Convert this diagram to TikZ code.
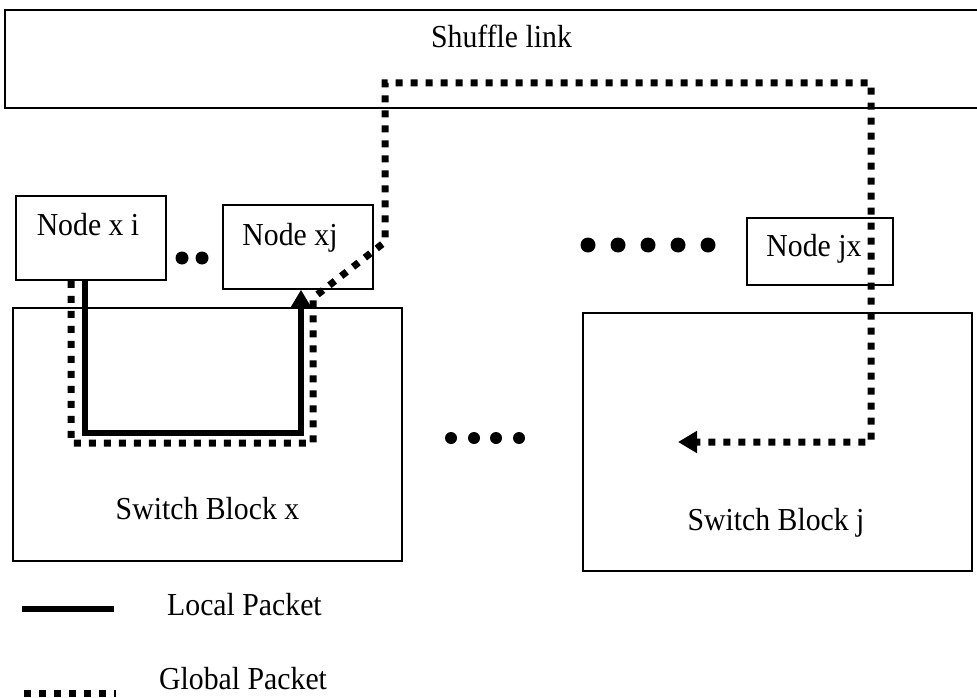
\documentclass[tikz,border=0pt]{standalone}
\usepackage{fontspec}
\setmainfont{Liberation Serif}[FakeStretch=0.93]
\usetikzlibrary{arrows.meta}
\begin{document}
\begin{tikzpicture}[x=1pt,y=-1pt,
  font=\fontsize{32}{38}\selectfont,
  box/.style={draw, line width=1.5pt, inner sep=0pt},
  lbl/.style={anchor=base, inner sep=0pt},
  localpkt/.style={line width=6pt, line join=miter},
  globalpkt/.style={line width=7pt, dash pattern=on 7pt off 8pt, line join=miter},
  tip/.style={-{Triangle[length=19pt,width=21pt]}}
]
\useasboundingbox (0,0) rectangle (977,698);
\clip (0,0) rectangle (977,698);

% shuffle link bar (runs off the right edge)
\node[box, minimum width=985pt, minimum height=98pt,
  label={[lbl, xshift=4pt, yshift=-38pt]north:Shuffle link}] (shuffle) at (497.5,59) {};

% processing nodes
\node[box, minimum width=150pt, minimum height=84pt,
  label={[lbl, xshift=-3pt, yshift=-40pt]north:Node x i}] (nxi) at (91,238) {};
\node[box, minimum width=150pt, minimum height=84pt,
  label={[lbl, xshift=-8pt, yshift=-41pt]north:Node xj}] (nxj) at (298,247) {};
\node[box, minimum width=146pt, minimum height=67pt,
  label={[lbl, xshift=-6pt, yshift=-39pt]north:Node jx}] (njx) at (820,251.5) {};

% switch blocks
\node[box, minimum width=389pt, minimum height=253pt] (sbx) at (207.5,434.5) {};
\node[lbl] (sbxt) at (207.5,519) {Switch Block x};
\node[box, minimum width=389pt, minimum height=258pt] (sbj) at (777.5,442) {};
\node[lbl] (sbjt) at (776,530) {Switch Block j};

% ellipsis dots
\fill (182,258) circle (6.5pt) (202,258) circle (6.5pt);
\foreach \xx in {588,618,648,678,708} \fill (\xx,245) circle (7.5pt);
\foreach \xx in {451,474,496,519} \fill (\xx,438) circle (6pt);

% local packet route
\draw[localpkt, tip] ([xshift=-6pt]nxi.south) -- (85,433) -| ([xshift=3pt]nxj.south);

% global packet route
\coordinate (gend) at (678,442);
\draw[globalpkt, tip] ([xshift=-20pt]nxi.south) -- (71,443) -- (313,443) -- (313,298)
  -- (385,242) -- (385,83) -- (871,83) -- (871,442) -- (gend);

% legend
\coordinate (la) at (22,609);
\coordinate (lb) at (114,609);
\coordinate (ga) at (24,693);
\coordinate (gb) at (116,693);
\draw[localpkt] (la) -- (lb);
\draw[globalpkt] (ga) -- (gb);
\node[lbl, anchor=base west] (llocal) at (167,615) {Local Packet};
\node[lbl, anchor=base west] (lglobal) at (159,689) {Global Packet};
\end{tikzpicture}
\end{document}
